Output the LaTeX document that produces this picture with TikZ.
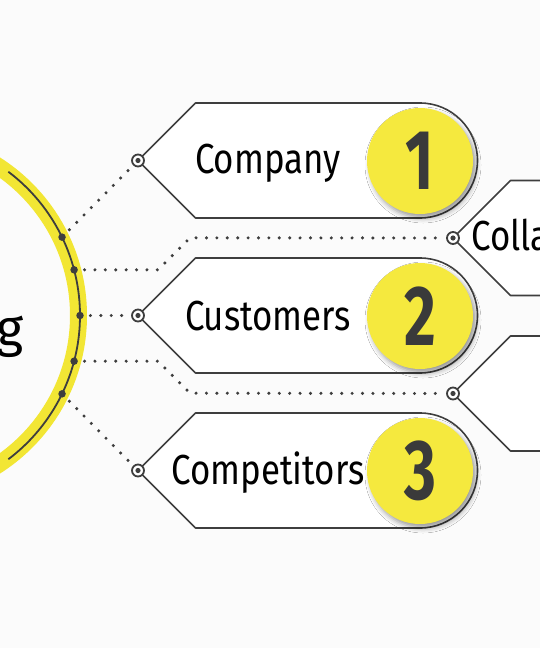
\documentclass[tikz,border=0pt]{standalone}
\usepackage{fontspec}
\setmainfont{Fira Sans}
\newfontfamily\tagfont{Fira Sans}[FakeStretch=0.83]
\newfontfamily\numfont{Fira Sans}[FakeStretch=0.72]
\usepackage{tikz}
\usetikzlibrary{positioning,calc,shadows.blur}
\definecolor{ringyellow}{RGB}{242,230,52}
\definecolor{discyellow}{RGB}{245,233,62}
\definecolor{linegrey}{RGB}{62,62,62}
\definecolor{numgrey}{RGB}{58,58,58}
\definecolor{bgwhite}{RGB}{251,251,251}
\tikzset{
  Tag/.pic={
    \tikzset{/tagblock/.cd,#1}
    \draw [tagline] (0,0) -- ++(\tagslope,-\taghalf) -- ++(\taglen,0)
      arc[start angle=-90, end angle=90, radius=\taghalf] -- ++(-\taglen,0) -- cycle;
  },
  /tagblock/.search also={/tikz},
  /tagblock/.cd,
  length/.store in=\taglen,
  half/.store in=\taghalf,
  slope/.store in=\tagslope,
  length=224.5, half=57.5, slope=57.5,
}

\begin{document}
\begin{tikzpicture}[x=1pt, y=-1pt, line join=round]

% local styles
\tikzset{
  tagline/.style={draw=linegrey, line width=1.6pt, fill=white},
  ringdot/.style={circle, fill=linegrey, inner sep=0pt, minimum size=7.5pt},
  hubmark/.style={circle, draw=linegrey, line width=1.8pt, fill=white, inner sep=0pt, minimum size=12pt,
    path picture={\fill[linegrey] (path picture bounding box.center) circle[radius=2.6pt];}},
  dotline/.style={linegrey, line width=3.4pt, line cap=round, dash pattern=on 0pt off 10.4pt,
    shorten <=6.5pt, shorten >=2pt},
  tagtext/.style={font=\tagfont\fontsize{42}{42}\selectfont, text=black, anchor=base, inner sep=0pt},
  numdisc/.style={circle, fill=discyellow, minimum size=106pt, inner sep=0pt, text=numgrey,
    font=\numfont\bfseries\fontsize{85}{85}\selectfont,
    blur shadow={shadow xshift=3pt, shadow yshift=-4pt, shadow blur radius=5pt, shadow opacity=40}},
}

\useasboundingbox (0,0) rectangle (540,648);
\clip (0,0) rectangle (540,648);
\fill[bgwhite] (0,0) rectangle (540,648);

% -----------------------------------------
% hub ring
% -----------------------------------------
\coordinate (hub) at (-100,315.5);
\draw[ringyellow, line width=17pt] (hub) circle[radius=178.5];
\draw[linegrey, line width=1.8pt] ($(hub)+(-53:180)$) arc[start angle=-53, end angle=53, radius=180];
\node[font=\fontsize{52}{52}\selectfont, anchor=base east, inner sep=0pt] (title) at (24,346) {g};

\node[ringdot] (d1) at ($(hub)+(-25.8:180)$) {};
\node[ringdot] (d2) at ($(hub)+(-14.7:180)$) {};
\node[ringdot] (d3) at ($(hub)+(0:180)$) {};
\node[ringdot] (d4) at ($(hub)+(14.7:180)$) {};
\node[ringdot] (d5) at ($(hub)+(25.8:180)$) {};

% -----------------------------------------
% tags
% -----------------------------------------
\coordinate (tip1) at (138,160.5);
\coordinate (tip2) at (138,315.5);
\coordinate (tip3) at (138,470.5);
\coordinate (tip4) at (453,238);
\coordinate (tip5) at (453,393.5);

\pic at (tip1) {Tag};
\pic at (tip2) {Tag};
\pic at (tip3) {Tag};
\pic at (tip4) {Tag={length=300}};
\pic at (tip5) {Tag={length=300}};

\node[hubmark] (m1) at (tip1) {};
\node[hubmark] (m2) at (tip2) {};
\node[hubmark] (m3) at (tip3) {};
\node[hubmark] (m4) at (tip4) {};
\node[hubmark] (m5) at (tip5) {};

\node[numdisc] (n1) at ($(tip1)+(282,0.5)$) {1};
\node[numdisc] (n2) at ($(tip2)+(282,0.5)$) {2};
\node[numdisc] (n3) at ($(tip3)+(282,0.5)$) {3};

\node[tagtext] (t1) at ($(tip1)+(130,13)$) {Company};
\node[tagtext] (t2) at ($(tip2)+(130,15)$) {Customers};
\node[tagtext] (t3) at ($(tip3)+(130,14)$) {Competitors};
\node[tagtext, anchor=base west] (t4) at ($(tip4)+(18,12)$) {Colla};

% -----------------------------------------
% dotted links
% -----------------------------------------
\draw[dotline] (d1) -- (m1);
\draw[dotline] (d2) -- ++(84,0) -- ++(32,-32) -- (m4);
\draw[dotline] (d3) -- (m2);
\draw[dotline] (d4) -- ++(84,0) -- ++(32,32) -- (m5);
\draw[dotline] (d5) -- (m3);
\end{tikzpicture}
\end{document}
